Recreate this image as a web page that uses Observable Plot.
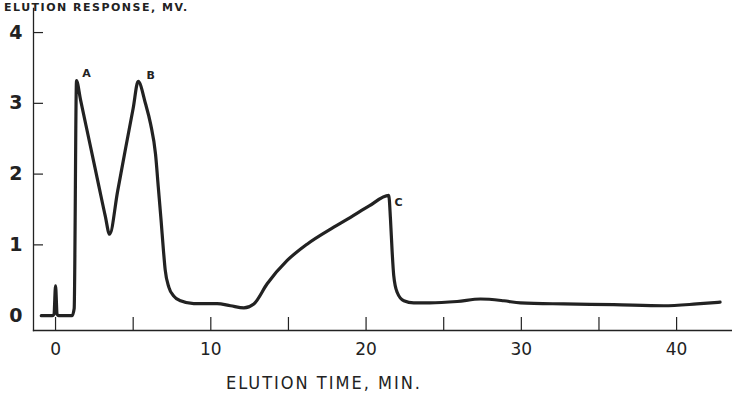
<!DOCTYPE html>
<html>
<head>
<meta charset="utf-8">
<script src="https://cdn.jsdelivr.net/npm/d3@7"></script>
<script src="https://cdn.jsdelivr.net/npm/@observablehq/plot@0.6"></script>
<style>
  html, body { margin: 0; padding: 0; background: #fff; overflow: hidden; }
  #wrap { position: relative; width: 732px; height: 393px; }
  #top { position: absolute; left: 4px; top: 1px; font: 700 11px/13px "DejaVu Sans", sans-serif; color: #222; letter-spacing: 1.5px; white-space: nowrap; }
  svg { display: block; }
</style>
</head>
<body>
<div id="wrap"><div id="top">ELUTION RESPONSE, MV.</div><div id="chart"></div></div>
<script>
// Elution time (min) and detector response
const time = [-0.92, -0.2, -0.1, 0.0, 0.1, 0.2, 1.07, 1.2, 1.35, 1.6, 2.25, 2.8, 3.2, 3.48, 4.0, 4.5, 5.0, 5.32, 5.8, 6.12, 6.44, 6.62, 6.8, 6.95, 7.06, 7.3, 7.6, 8.05, 8.9, 10.4, 11.27, 12.13, 12.77, 13.63, 14.92, 16.2, 17.92, 19.0, 20.2, 21.46, 21.57, 21.68, 21.78, 22.0, 22.43, 23.07, 24.1, 25.87, 27.37, 28.87, 29.94, 32.73, 35.95, 39.17, 41.3, 42.8];
const response = [0.0, 0.0, 0.02, 0.42, 0.02, 0.0, 0.0, 0.1, 3.32, 3.06, 2.39, 1.82, 1.41, 1.15, 1.76, 2.35, 2.93, 3.31, 2.99, 2.71, 2.28, 1.81, 1.34, 0.92, 0.65, 0.4, 0.28, 0.21, 0.17, 0.17, 0.14, 0.11, 0.165, 0.45, 0.78, 1.01, 1.25, 1.39, 1.55, 1.70, 1.37, 0.9, 0.57, 0.33, 0.21, 0.18, 0.18, 0.20, 0.235, 0.21, 0.18, 0.165, 0.155, 0.14, 0.165, 0.19];

const peakNames = ["A", "B", "C"];
const peakLabelTime = [2.0, 6.12, 22.09];
const peakLabelResp = [3.42, 3.39, 1.60];

const xTickMarks = [0, 5, 10, 15, 20, 25, 30, 35, 40];
const xTickLabels = [0, 10, 20, 30, 40];
const yTickMarks = [1, 2, 3, 4];
const yTickLabels = [0, 1, 2, 3, 4];
const xTitle = "ELUTION TIME, MIN.";

const curve = time.map((t, i) => ({t, r: response[i]}));
const peaks = peakNames.map((n, i) => ({n, t: peakLabelTime[i], r: peakLabelResp[i]}));

const ink = "#222";
const chart = Plot.plot({
  width: 732,
  height: 393,
  marginLeft: 33,
  marginRight: 0,
  marginTop: 8,
  marginBottom: 63,
  style: {background: "#fff", color: ink, fontFamily: "DejaVu Sans, sans-serif"},
  x: {domain: [-1.42, 43.6]},
  y: {domain: [-0.21, 4.34]},
  marks: [
    Plot.frame({anchor: "left", stroke: ink, strokeWidth: 1.3}),
    Plot.frame({anchor: "bottom", stroke: ink, strokeWidth: 1.3}),
    Plot.axisY({ticks: yTickMarks, tickSize: 10, dx: 10, text: null, label: null, stroke: ink, strokeWidth: 1.2}),
    Plot.axisY({ticks: yTickLabels, tickFormat: d3.format("d"), tickSize: 0, tickPadding: 11, label: null, fontSize: 19, fontWeight: "bold", fill: ink}),
    Plot.axisX({ticks: xTickMarks, tickSize: 13, dy: -13, text: null, label: null, stroke: ink, strokeWidth: 1.2}),
    Plot.axisX({ticks: xTickLabels, tickFormat: d3.format("d"), tickSize: 0, tickPadding: 12, label: null, fontSize: 17, fill: ink}),
    Plot.line(curve, {x: "t", y: "r", curve: "monotone-x", stroke: ink, strokeWidth: 3.2, strokeLinejoin: "round", strokeLinecap: "round"}),
    Plot.text(peaks, {x: "t", y: "r", text: "n", fontSize: 11, fontWeight: "bold", fill: ink})
  ]
});
document.getElementById("chart").appendChild(chart);

// axis title as real text under the axis
const svg = d3.select(chart);
svg.append("text")
  .attr("x", 324).attr("y", 389)
  .attr("text-anchor", "middle")
  .attr("font-family", "DejaVu Sans Condensed, DejaVu Sans, sans-serif")
  .attr("font-size", 18)
  .attr("letter-spacing", 2)
  .attr("fill", ink)
  .text(xTitle);
</script>
</body>
</html>
